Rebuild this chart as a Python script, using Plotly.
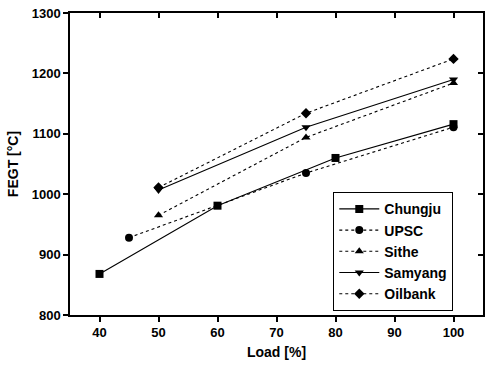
import plotly.graph_objects as go

chungju_x = [40, 60, 80, 100]
chungju_y = [868, 981, 1060, 1116]
upsc_x = [45, 75, 100]
upsc_y = [928, 1035, 1111]
sithe_x = [50, 75, 100]
sithe_y = [965, 1094, 1184]
samyang_x = [50, 75, 100]
samyang_y = [1007, 1111, 1190]
oilbank_x = [50, 75, 100]
oilbank_y = [1011, 1134, 1224]

x_ticks = [40, 50, 60, 70, 80, 90, 100]
y_ticks = [800, 900, 1000, 1100, 1200, 1300]

series = [
    ("Chungju", chungju_x, chungju_y, "square", "solid"),
    ("UPSC", upsc_x, upsc_y, "circle", "dot"),
    ("Sithe", sithe_x, sithe_y, "triangle-up", "dot"),
    ("Samyang", samyang_x, samyang_y, "triangle-down", "solid"),
    ("Oilbank", oilbank_x, oilbank_y, "diamond", "dot"),
]

fig = go.Figure()
for name, xs, ys, sym, dash in series:
    fig.add_trace(go.Scatter(
        x=xs, y=ys, name=name, mode="lines+markers",
        line=dict(color="black", width=1.1, dash=dash),
        marker=dict(symbol=sym, size=8, color="black"),
    ))

# invisible trace to activate mirrored axes with inward ticks
fig.add_trace(go.Scatter(x=[35], y=[800], xaxis="x2", yaxis="y2",
                         mode="markers", marker=dict(opacity=0),
                         showlegend=False, hoverinfo="skip"))

FAM = "Liberation Sans, Arial, sans-serif"
tickfont = dict(family=FAM, size=13, color="black", weight="bold")
titlefont = dict(family=FAM, size=14, color="black", weight="bold")

fig.update_layout(
    width=485, height=369,
    margin=dict(l=70, r=2, t=13, b=54),
    paper_bgcolor="white", plot_bgcolor="white",
    showlegend=True,
    legend=dict(
        x=0.637, y=0.407, xanchor="left", yanchor="top",
        bordercolor="black", borderwidth=1.2, bgcolor="white",
        font=dict(family=FAM, size=14, color="black", weight="bold"),
        tracegroupgap=0, itemwidth=40,
    ),
    xaxis=dict(
        range=[35, 105], tickvals=x_ticks, ticks="outside", ticklen=5,
        tickwidth=1.5, tickcolor="black", showline=True, linecolor="black",
        linewidth=1.5, showgrid=False, zeroline=False, tickfont=tickfont,
        title=dict(text="Load [%]", font=titlefont, standoff=8),
    ),
    yaxis=dict(
        range=[800, 1300], tickvals=y_ticks, ticks="outside", ticklen=5,
        tickwidth=1.5, tickcolor="black", showline=True, linecolor="black",
        linewidth=1.5, showgrid=False, zeroline=False, tickfont=tickfont,
        title=dict(text="FEGT [°C]", font=titlefont, standoff=10),
    ),
    xaxis2=dict(
        range=[35, 105], tickvals=x_ticks, ticks="inside", ticklen=5,
        tickwidth=1.5, tickcolor="black", showline=True, linecolor="black",
        linewidth=1.5, showgrid=False, zeroline=False, showticklabels=False,
        overlaying="x", side="top", anchor="y",
    ),
    yaxis2=dict(
        range=[800, 1300], tickvals=y_ticks, ticks="inside", ticklen=5,
        tickwidth=1.5, tickcolor="black", showline=True, linecolor="black",
        linewidth=1.5, showgrid=False, zeroline=False, showticklabels=False,
        overlaying="y", side="right", anchor="x",
    ),
)

fig.write_html("out.html",
               config={"displayModeBar": False},
               post_script="document.body.style.margin='0';document.body.style.padding='0';")
